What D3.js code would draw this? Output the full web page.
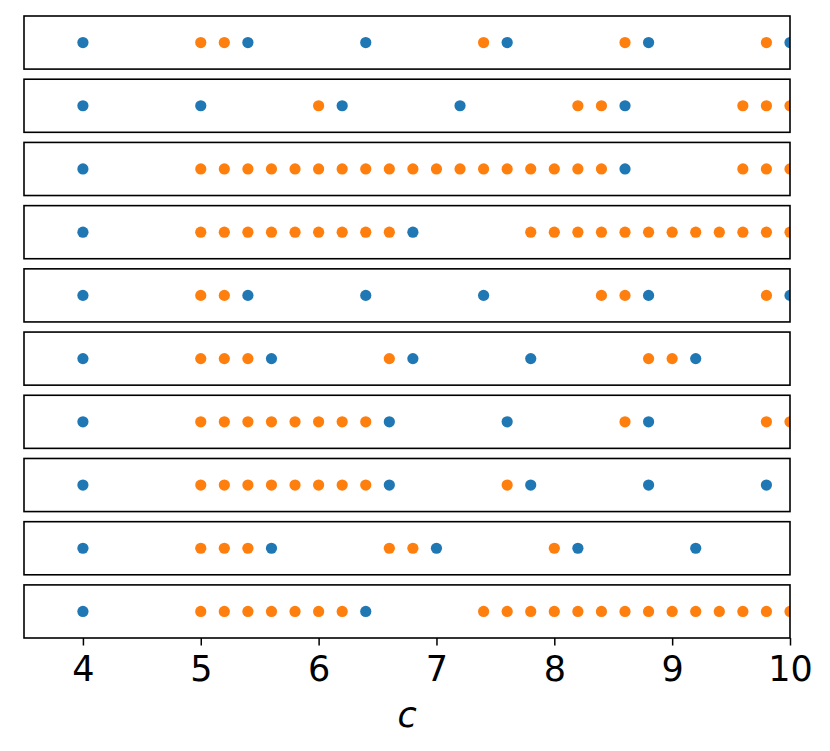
<!DOCTYPE html>
<html>
<head>
<meta charset="utf-8">
<script src="https://cdn.jsdelivr.net/npm/d3@7"></script>
<style>
  html, body { margin: 0; padding: 0; background: #fff; }
  svg { display: block; }
</style>
</head>
<body>
<svg id="chart" width="830" height="751"></svg>
<script>
// ---- data ----
const rowIds = [0, 1, 2, 3, 4, 5, 6, 7, 8, 9];
const blueValues = [
  [4, 5.4, 6.4, 7.6, 8.8, 10],
  [4, 5, 6.2, 7.2, 8.6],
  [4, 8.6],
  [4, 6.8],
  [4, 5.4, 6.4, 7.4, 8.8, 10],
  [4, 5.6, 6.8, 7.8, 9.2],
  [4, 6.6, 7.6, 8.8],
  [4, 6.6, 7.8, 8.8, 9.8],
  [4, 5.6, 7.0, 8.2, 9.2],
  [4, 6.4]
];
const orangeValues = [
  [5, 5.2, 7.4, 8.6, 9.8],
  [6, 8.2, 8.4, 9.6, 9.8, 10],
  [5, 5.2, 5.4, 5.6, 5.8, 6, 6.2, 6.4, 6.6, 6.8, 7, 7.2, 7.4, 7.6, 7.8, 8, 8.2, 8.4, 9.6, 9.8, 10],
  [5, 5.2, 5.4, 5.6, 5.8, 6, 6.2, 6.4, 6.6, 7.8, 8, 8.2, 8.4, 8.6, 8.8, 9, 9.2, 9.4, 9.6, 9.8, 10],
  [5, 5.2, 8.4, 8.6, 9.8],
  [5, 5.2, 5.4, 6.6, 8.8, 9.0],
  [5, 5.2, 5.4, 5.6, 5.8, 6, 6.2, 6.4, 8.6, 9.8, 10],
  [5, 5.2, 5.4, 5.6, 5.8, 6, 6.2, 6.4, 7.6],
  [5, 5.2, 5.4, 6.6, 6.8, 8.0],
  [5, 5.2, 5.4, 5.6, 5.8, 6, 6.2, 7.4, 7.6, 7.8, 8, 8.2, 8.4, 8.6, 8.8, 9, 9.2, 9.4, 9.6, 9.8, 10]
];
const xDomain = [3.5, 10];
const xTicks = [4, 5, 6, 7, 8, 9, 10];
const xLabel = "c";

// ---- layout ----
(function () {
  const svg = d3.select("#chart");
  const mLeft = 24, mRight = 790, mTop = 16, mBottom = 638;
  const x = d3.scaleLinear().domain(xDomain).range([mLeft, mRight]);
  const y = d3.scaleBand().domain(rowIds).range([mTop, mBottom]).paddingInner(0.16).paddingOuter(0);
  const colors = { blue: "#1f77b4", orange: "#ff7f0e" };
  const r = 5.6;

  const defs = svg.append("defs");

  rowIds.forEach(i => {
    const y0 = y(i), h = y.bandwidth();
    defs.append("clipPath").attr("id", "clip" + i)
      .append("rect").attr("x", mLeft).attr("y", y0).attr("width", mRight - mLeft).attr("height", h);
    const g = svg.append("g");
    const pts = g.append("g").attr("clip-path", "url(#clip" + i + ")");
    const cy = y0 + h / 2;
    pts.selectAll("circle.b").data(blueValues[i]).enter().append("circle")
      .attr("class", "b").attr("cx", d => x(d)).attr("cy", cy).attr("r", r)
      .attr("fill", colors.blue);
    pts.selectAll("circle.o").data(orangeValues[i]).enter().append("circle")
      .attr("class", "o").attr("cx", d => x(d)).attr("cy", cy).attr("r", r)
      .attr("fill", colors.orange);
    g.append("rect").attr("x", mLeft).attr("y", y0).attr("width", mRight - mLeft).attr("height", h)
      .attr("fill", "none").attr("stroke", "#000").attr("stroke-width", 1.6);
  });

  const lastBottom = y(rowIds[rowIds.length - 1]) + y.bandwidth();
  const axis = svg.append("g").attr("transform", `translate(0,${lastBottom})`)
    .call(d3.axisBottom(x).tickValues(xTicks).tickFormat(d3.format("d")).tickSize(7.5).tickPadding(11));
  axis.select(".domain").remove();
  axis.selectAll(".tick line").attr("stroke", "#000").attr("stroke-width", 1.5);
  axis.selectAll(".tick text").attr("fill", "#000")
    .style("font-family", "'DejaVu Sans', sans-serif").style("font-size", "35px");

  svg.append("text").attr("x", (mLeft + mRight) / 2).attr("y", 727)
    .attr("text-anchor", "middle")
    .style("font-family", "'DejaVu Sans', sans-serif").style("font-size", "35px").style("font-style", "italic")
    .text(xLabel);
})();
</script>
</body>
</html>
